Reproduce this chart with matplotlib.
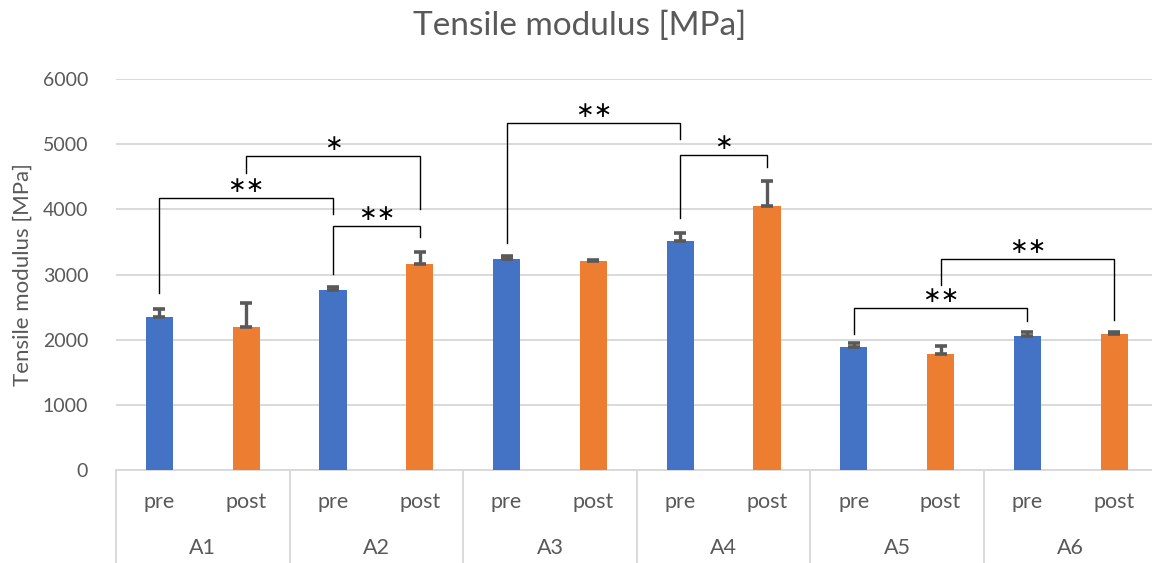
import matplotlib
matplotlib.use('Agg')
import matplotlib.pyplot as plt
import matplotlib.transforms as mtransforms
import numpy as np

plt.rcParams['font.family'] = ['Lato', 'DejaVu Sans']

# ---------------- data ----------------
groups = ['A1', 'A2', 'A3', 'A4', 'A5', 'A6']
conditions = ['pre', 'post']

pre_mean = [2350, 2760, 3235, 3510, 1890, 2060]
pre_err = [120, 45, 55, 120, 55, 55]
post_mean = [2190, 3160, 3205, 4050, 1780, 2085]
post_err = [380, 180, 20, 390, 130, 40]

# significance brackets: left bar, right bar, left leg bottom, top, right leg bottom, label
# (bar index = 2 * group + condition)
br_left = [0, 2, 1, 4, 6, 8, 9]
br_right = [2, 3, 3, 6, 7, 10, 11]
br_left_low = [2710, 3010, 4555, 3490, 3860, 2080, 2840]
br_top = [4170, 3745, 4820, 5330, 4835, 2480, 3235]
br_right_low = [3925, 3570, 4000, 5080, 4655, 2290, 2300]
br_label = ['**', '**', '*', '**', '*', '**', '**']

c_blue = '#4472C4'
c_orange = '#ED7D31'
c_text = '#595959'
c_grid = '#D9D9D9'

# ---------------- figure ----------------
fig = plt.figure(figsize=(11.52, 5.63), dpi=100)
ax = fig.add_axes([116 / 1152, 93 / 563, 1036 / 1152, 391 / 563])

n = len(groups)
x_pre = np.arange(n) * 2
x_post = x_pre + 1
width = 0.315

ax.bar(x_pre, pre_mean, width, color=c_blue, zorder=3)
ax.bar(x_post, post_mean, width, color=c_orange, zorder=3)
ax.errorbar(x_pre, pre_mean, yerr=[np.zeros(n), pre_err], fmt='none',
            ecolor=c_text, elinewidth=2.4, capsize=4.5, capthick=2.6, zorder=4)
ax.errorbar(x_post, post_mean, yerr=[np.zeros(n), post_err], fmt='none',
            ecolor=c_text, elinewidth=2.4, capsize=4.5, capthick=2.6, zorder=4)

# brackets
for i in range(len(br_label)):
    xl, xr = br_left[i], br_right[i]
    ax.plot([xl, xl, xr, xr], [br_left_low[i], br_top[i], br_top[i], br_right_low[i]],
            color='black', lw=1.0, zorder=5, solid_joinstyle='miter')
    ax.text((xl + xr) / 2, br_top[i] + 30, br_label[i].replace('*', '\u2217'),
            ha='center', va='bottom', fontsize=16, color='black',
            family=['DejaVu Sans'])

ax.set_xlim(-0.5, -0.5 + 1036 / 86.8)
ax.set_ylim(0, 6000)
ax.set_yticks(np.arange(0, 6001, 1000))
ax.yaxis.grid(True, color=c_grid, lw=1.4, zorder=0)
ax.set_axisbelow(True)
ax.tick_params(axis='y', length=0, pad=20, labelsize=14, labelcolor=c_text)
ax.set_xticks([])
for s in ['left', 'right', 'top']:
    ax.spines[s].set_visible(False)
ax.spines['bottom'].set_color(c_grid)
ax.spines['bottom'].set_linewidth(1.4)

ax.set_ylabel('Tensile modulus [MPa]', fontsize=16, color=c_text)
ax.yaxis.set_label_coords(-0.080, 0.5)

# two-level category axis
trans = mtransforms.blended_transform_factory(ax.transData, ax.transAxes)
y_bottom = -93 / 391
for k in range(n + 1):
    xb = 2 * k - 0.5
    ax.plot([xb, xb], [0, y_bottom], transform=trans, color=c_grid, lw=1.4,
            clip_on=False)
for k in range(n):
    ax.text(x_pre[k], -32 / 391, conditions[0], transform=trans, ha='center',
            va='center', fontsize=15.5, color=c_text)
    ax.text(x_post[k], -32 / 391, conditions[1], transform=trans, ha='center',
            va='center', fontsize=15.5, color=c_text)
    ax.text(x_pre[k] + 0.5, -78 / 391, groups[k], transform=trans, ha='center',
            va='center', fontsize=15.5, color=c_text)

fig.text(580 / 1152, 1 - 26 / 563, 'Tensile modulus [MPa]', ha='center', va='center',
         fontsize=24, color=c_text)

fig.savefig('out.png', dpi=100)
